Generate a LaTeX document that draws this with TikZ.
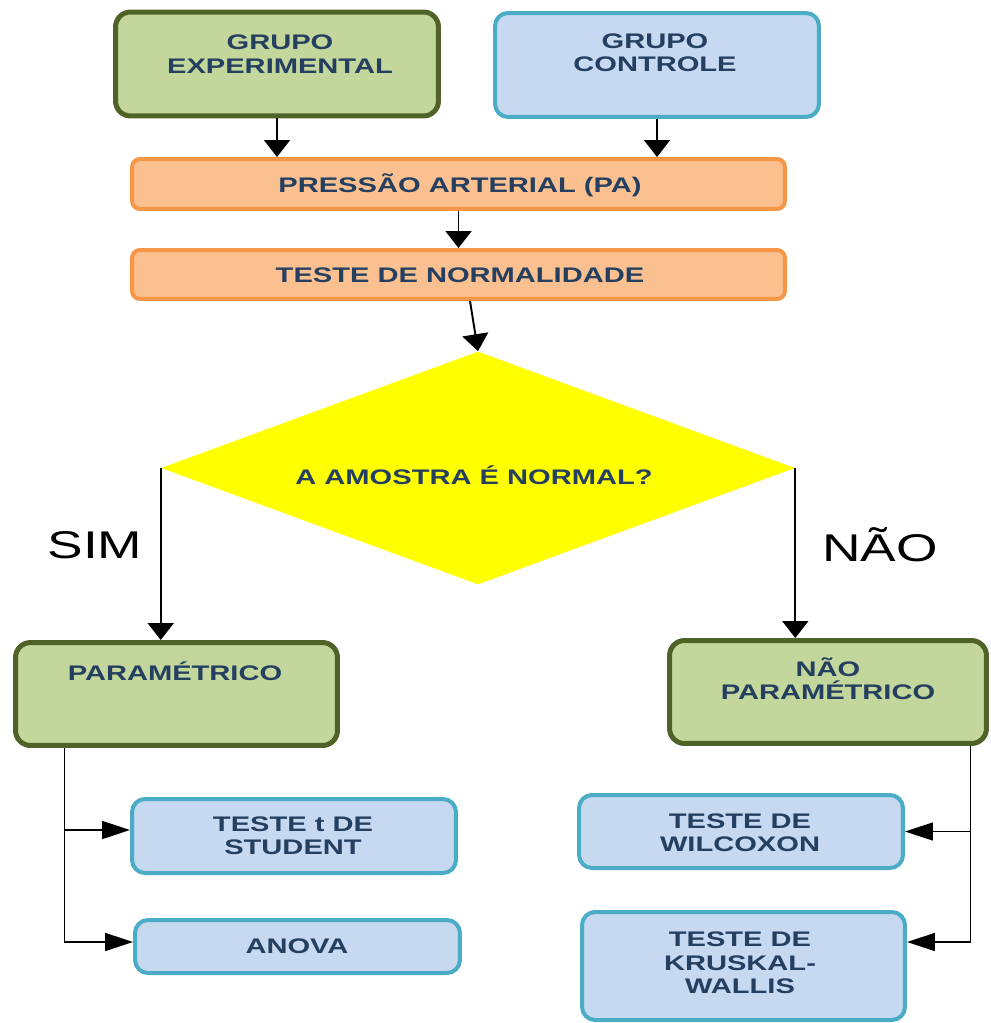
\documentclass[tikz,border=0pt]{standalone}
\usepackage{fontspec}
\setmainfont{Liberation Sans}[FakeStretch=1.38]
\usetikzlibrary{shapes.geometric,arrows.meta,calc}
\definecolor{oliveB}{HTML}{4F6228}
\definecolor{oliveF}{HTML}{C3D69B}
\definecolor{blueB}{HTML}{4BACC6}
\definecolor{blueF}{HTML}{C6D9F1}
\definecolor{orangeB}{HTML}{F79646}
\definecolor{orangeF}{HTML}{FAC090}
\definecolor{yelF}{RGB}{255,255,0}
\definecolor{txtC}{HTML}{243F60}
\tikzset{
  gbox/.style={draw=oliveB, fill=oliveF, line width=0.1cm, rounded corners=0.3cm, inner sep=0pt},
  bbox/.style={draw=blueB, fill=blueF, line width=0.08cm, rounded corners=0.26cm, inner sep=0pt},
  obox/.style={draw=orangeB, fill=orangeF, line width=0.08cm, rounded corners=0.16cm, inner sep=0pt},
  txt/.style={text=txtC, font=\bfseries\fontsize{12}{13.3}\selectfont, align=center, inner sep=0pt},
  big/.style={text=black, font=\fontsize{22}{24}\selectfont, inner sep=0pt},
  varr/.style={line width=1.1pt, -{Triangle[width=0.52cm,length=0.34cm]}},
  harr/.style={line width=0.9pt, -{Triangle[width=0.36cm,length=0.56cm]}}
}
\begin{document}
\begin{tikzpicture}[x=0.02cm,y=-0.02cm]
\useasboundingbox (0,0) rectangle (990,1023);
\clip (0,0) rectangle (990,1023);

% boxes
\node[gbox, minimum width=6.46cm, minimum height=2.08cm] (exp) at (277,64) {};
\node[bbox, minimum width=6.48cm, minimum height=2.08cm] (ctl) at (657,65) {};
\node[obox, minimum width=13.06cm, minimum height=1.0cm] (pa) at (458.5,184) {};
\node[obox, minimum width=13.06cm, minimum height=0.98cm] (norm) at (458.5,274.5) {};
\node[diamond, fill=yelF, inner sep=0pt, minimum width=12.68cm, minimum height=4.66cm] (dia) at (478,468) {};
\node[gbox, minimum width=6.44cm, minimum height=2.06cm] (param) at (176.5,694) {};
\node[gbox, minimum width=6.34cm, minimum height=2.06cm] (nparam) at (828,692) {};
\node[bbox, minimum width=6.48cm, minimum height=1.48cm] (student) at (294,836) {};
\node[bbox, minimum width=6.5cm, minimum height=1.06cm] (anova) at (297.5,946.5) {};
\node[bbox, minimum width=6.48cm, minimum height=1.46cm] (wilcox) at (741,831.5) {};
\node[bbox, minimum width=6.46cm, minimum height=2.16cm] (kruskal) at (743.5,966) {};

% texts
\node[txt] (expT) at (280,54) {GRUPO\\EXPERIMENTAL};
\node[txt] (ctlT) at (655,53) {GRUPO\\CONTROLE};
\node[txt] (paT) at (460,185) {PRESSÃO ARTERIAL (PA)};
\node[txt] (normT) at (460,275) {TESTE DE NORMALIDADE};
\node[txt] (diaT) at (474,475) {A AMOSTRA É NORMAL?};
\node[big] (sim) at (95,545) {SIM};
\node[big] (nao) at (880,545) {NÃO};
\node[txt] (paramT) at (175,671) {PARAMÉTRICO};
\node[txt] (nparamT) at (828,679) {NÃO\\PARAMÉTRICO};
\node[txt] (studentT) at (293,836) {TESTE t DE\\STUDENT};
\node[txt] (anovaT) at (297,946) {ANOVA};
\node[txt] (wilcoxT) at (740,833) {TESTE DE\\WILCOXON};
\node[txt] (kruskalT) at (740,963) {TESTE DE\\KRUSKAL-\\WALLIS};

% connectors
\draw[varr] (exp.south) -- (exp.south |- pa.north);
\draw[varr] (ctl.south) -- (ctl.south |- pa.north);
\draw[varr] (pa.south) -- (norm.north);
\draw[varr] ([xshift=0.23cm]norm.south) -- (dia.north);
\draw[varr] (dia.west) -- (dia.west |- param.north);
\draw[varr] (dia.east) -- (dia.east |- nparam.north);

\coordinate (pb) at ([xshift=1.03cm]param.south west);
\coordinate (stin) at ([yshift=0.12cm]student.west);
\draw[harr] (pb) |- ([yshift=0.09cm]anova.west);
\draw[harr] (pb |- stin) -- (stin);

\coordinate (nb) at ([xshift=-0.37cm]nparam.south east);
\draw[harr] (nb) |- ([yshift=0.48cm]kruskal.east);
\draw[harr] (nb |- wilcox.east) -- (wilcox.east);
\end{tikzpicture}
\end{document}
